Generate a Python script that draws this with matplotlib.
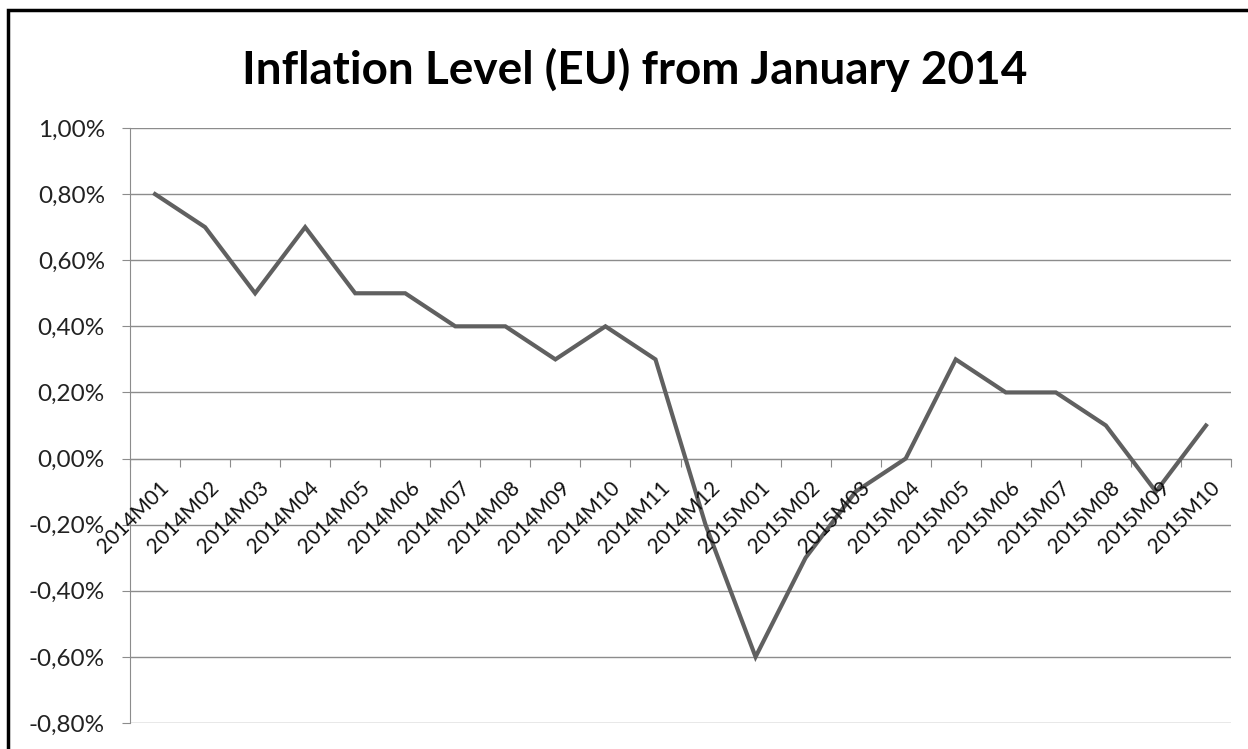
import matplotlib.pyplot as plt
from matplotlib.patches import Rectangle
from matplotlib.ticker import FuncFormatter, MultipleLocator

months = ["2014M01", "2014M02", "2014M03", "2014M04", "2014M05", "2014M06",
          "2014M07", "2014M08", "2014M09", "2014M10", "2014M11", "2014M12",
          "2015M01", "2015M02", "2015M03", "2015M04", "2015M05", "2015M06",
          "2015M07", "2015M08", "2015M09", "2015M10"]
inflation = [0.8, 0.7, 0.5, 0.7, 0.5, 0.5, 0.4, 0.4, 0.3, 0.4, 0.3, -0.2,
             -0.6, -0.3, -0.1, 0.0, 0.3, 0.2, 0.2, 0.1, -0.1, 0.1]

plt.rcParams['font.family'] = ['Lato', 'DejaVu Sans']

fig = plt.figure(figsize=(12.48, 7.49), dpi=100)
ax = fig.add_axes([130 / 1248, 1 - 723 / 749, 1101 / 1248, 595 / 749])

x = list(range(len(months)))
ax.plot(x, inflation, color='#606060', linewidth=3.0, solid_joinstyle='miter', zorder=3)

ax.set_xlim(-0.5, len(months) - 0.5)
ax.set_ylim(-0.8, 1.0)
ax.yaxis.set_major_locator(MultipleLocator(0.2))
ax.yaxis.set_major_formatter(FuncFormatter(lambda v, p: f"{v:.2f}".replace(".", ",") + "%"))
ax.grid(axis='y', color='#8c8c8c', linewidth=1.0)
ax.set_axisbelow(True)

for s in ['top', 'right']:
    ax.spines[s].set_visible(False)
ax.spines['left'].set_color('#8c8c8c')
ax.spines['bottom'].set_color('#8c8c8c')
ax.spines['bottom'].set_position(('data', 0))

ax.tick_params(axis='y', length=6, color='#8c8c8c', pad=12, labelsize=17.5, labelcolor='#222222')
# category boundaries as ticks on the zero line
ax.set_xticks([i - 0.5 for i in range(len(months) + 1)])
ax.set_xticklabels([])
ax.tick_params(axis='x', length=6, color='#8c8c8c', direction='out')

for i, m in enumerate(months):
    ax.annotate(m, xy=(i, 0), xytext=(8, -19), textcoords='offset points',
                rotation=45, rotation_mode='anchor', ha='right', va='center',
                fontsize=15, color='#111111')

fig.text(635 / 1248, 1 - 70 / 749, "Inflation Level (EU) from January 2014",
         fontsize=33, fontweight='bold', ha='center', va='center')

# outer frame (only left and top visible in the crop)
fig.patches.append(Rectangle((8 / 1248, -0.1), 1.2, 1 - 10 / 749 + 0.1,
                             transform=fig.transFigure, fill=False,
                             edgecolor='black', linewidth=2.5))

fig.savefig("out.png", dpi=100)
